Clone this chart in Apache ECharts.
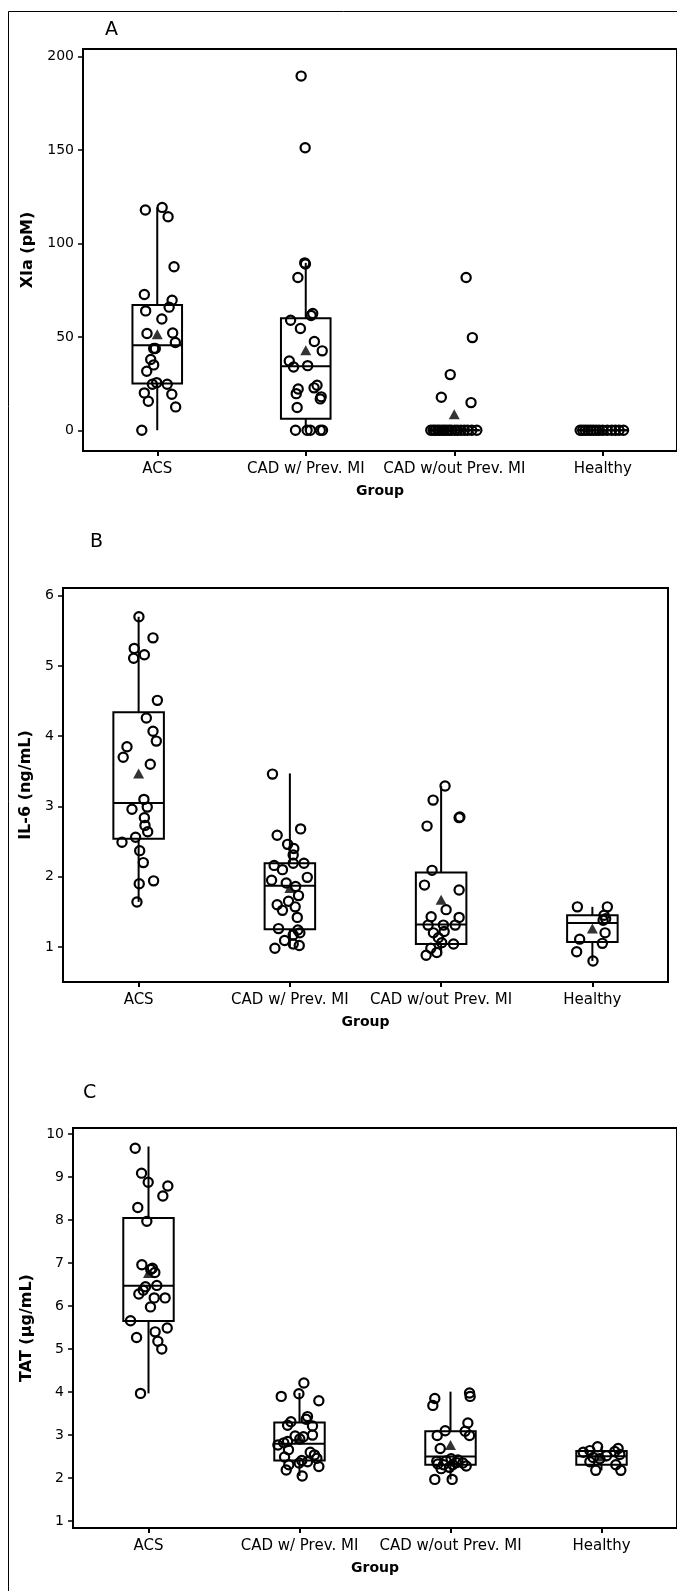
<!DOCTYPE html>
<html><head><meta charset="utf-8">
<script src="https://cdn.jsdelivr.net/npm/echarts@6/dist/echarts.min.js"></script>
<style>html,body{margin:0;padding:0;background:#fff}#c{width:677px;height:1591px}</style>
</head><body><div id="c"></div>
<script>
const groups = ['ACS', 'CAD w/ Prev. MI', 'CAD w/out Prev. MI', 'Healthy'];

// ---- Panel A: XIa (pM) ----
const xiaACS = [117.9,119.3,114.3,87.5,72.7,69.6,65.9,63.9,59.6,51.8,52.1,47.0,43.8,43.8,37.9,35.0,31.6,24.6,25.5,24.6,20.0,15.5,19.3,12.5,0];
const xiaACSJit = [-0.080,0.033,0.073,0.113,-0.087,0.100,0.080,-0.078,0.031,-0.069,0.104,0.122,-0.013,-0.024,-0.044,-0.024,-0.071,-0.033,-0.004,0.067,-0.087,-0.060,0.098,0.124,-0.104];
const xiaCADw = [189.6,151.2,89.6,89.0,81.8,62.5,61.4,58.9,54.5,47.5,42.5,37.1,33.9,34.6,22.1,19.6,24.1,22.7,17.9,16.8,12.2,0,0,0,0,0];
const xiaCADwJit = [-0.031,-0.004,-0.007,-0.002,-0.053,0.047,0.036,-0.102,-0.036,0.058,0.111,-0.111,-0.082,0.013,-0.051,-0.064,0.076,0.056,0.104,0.098,-0.058,-0.069,0.009,0.031,0.098,0.113];
const xiaCADwo = [81.8,49.6,29.8,17.7,14.8,0,0,0,0,0,0,0,0,0,0,0,0,0,0,0,0,0];
const xiaCADwoJit = [0.080,0.122,-0.027,-0.087,0.113,-0.158,-0.142,-0.128,-0.112,-0.098,-0.081,-0.066,-0.050,-0.034,-0.020,0.004,0.022,0.045,0.068,0.090,0.118,0.152];
const xiaHealthy = [0,0,0,0,0,0,0,0,0,0,0,0,0,0];
const xiaHealthyJit = [-0.152,-0.135,-0.118,-0.100,-0.082,-0.064,-0.045,-0.025,0.000,0.030,0.060,0.085,0.110,0.140];
// [lower whisker, Q1, median, Q3, upper whisker]
const xiaStats = [[0,25.0,45.5,67.1,119.3],[0,6.1,34.3,60.0,89.6],[0,0,0,0,0],[0,0,0,0,0]];
const xiaMeans = [51.4,42.9,8.6,0];
const xiaTicks = [0,50,100,150,200];

// ---- Panel B: IL-6 (ng/mL) ----
const il6ACS = [5.70,5.40,5.25,5.11,5.16,4.51,4.26,4.07,3.93,3.85,3.70,3.60,3.10,2.99,2.96,2.84,2.73,2.64,2.56,2.49,2.37,2.20,1.90,1.94,1.64];
const il6ACSJit = [0.002,0.095,-0.029,-0.033,0.038,0.124,0.051,0.095,0.117,-0.077,-0.102,0.077,0.035,0.057,-0.044,0.038,0.042,0.060,-0.020,-0.110,0.007,0.031,0.004,0.099,-0.011];
const il6CADw = [3.46,2.68,2.59,2.46,2.40,2.31,2.19,2.19,2.16,2.10,1.99,1.95,1.91,1.86,1.73,1.65,1.60,1.57,1.52,1.42,1.26,1.24,1.20,1.17,1.09,1.04,1.02,0.98];
const il6CADwJit = [-0.115,0.071,-0.084,-0.015,0.026,0.022,0.022,0.093,-0.104,-0.049,0.115,-0.121,-0.024,0.038,0.057,-0.009,-0.084,0.035,-0.049,0.049,-0.075,0.053,0.066,0.022,-0.035,0.022,0.062,-0.099];
const il6CADwo = [3.29,3.09,2.85,2.84,2.72,2.09,1.88,1.81,1.53,1.43,1.42,1.31,1.31,1.31,1.20,1.22,1.13,1.06,1.04,0.98,0.92,0.88];
const il6CADwoJit = [0.026,-0.053,0.124,0.119,-0.093,-0.060,-0.110,0.119,0.033,-0.066,0.119,-0.086,0.015,0.093,-0.051,0.020,-0.018,0.004,0.082,-0.068,-0.029,-0.099];
const il6Healthy = [1.57,1.57,1.45,1.40,1.38,1.20,1.11,1.05,0.93,0.80];
const il6HealthyJit = [-0.099,0.099,0.077,0.088,0.071,0.084,-0.084,0.066,-0.104,0.004];
const il6Stats = [[1.64,2.54,3.05,4.34,5.70],[0.98,1.25,1.87,2.19,3.47],[0.88,1.04,1.32,2.06,3.29],[0.80,1.07,1.34,1.45,1.57]];
const il6Means = [3.47,1.84,1.67,1.26];
const il6Ticks = [1,2,3,4,5,6];

// ---- Panel C: TAT (µg/mL) ----
const tatACS = [9.67,9.09,8.88,8.79,8.56,8.29,7.97,6.96,6.88,6.85,6.78,6.48,6.45,6.37,6.28,6.19,6.19,5.98,5.66,5.49,5.40,5.27,5.18,5.00,3.97];
const tatACSJit = [-0.088,-0.046,-0.002,0.128,0.095,-0.071,-0.011,-0.044,0.026,0.015,0.042,0.055,-0.020,-0.035,-0.064,0.038,0.110,0.013,-0.119,0.124,0.044,-0.079,0.062,0.088,-0.053];
const tatCADw = [4.21,3.96,3.90,3.80,3.43,3.37,3.31,3.23,3.21,3.00,2.98,2.96,2.91,2.85,2.82,2.77,2.66,2.60,2.54,2.49,2.46,2.41,2.38,2.35,2.31,2.27,2.19,2.05];
const tatCADwJit = [0.029,-0.004,-0.121,0.128,0.053,0.044,-0.057,-0.079,0.086,0.086,-0.029,0.026,0.002,-0.079,-0.104,-0.143,-0.073,0.071,0.099,-0.099,0.115,0.015,0.053,-0.002,-0.071,0.128,-0.088,0.018];
const tatCADwo = [3.98,3.90,3.85,3.69,3.28,3.10,3.09,2.99,2.99,2.69,2.45,2.42,2.39,2.40,2.36,2.35,2.33,2.31,2.31,2.28,2.25,2.22,1.97,1.97];
const tatCADwoJit = [0.126,0.130,-0.104,-0.117,0.115,-0.035,0.097,0.126,-0.088,-0.068,0.004,0.049,-0.091,-0.029,0.038,0.082,-0.084,-0.046,0.015,0.104,-0.007,-0.062,-0.104,0.011];
const tatHealthy = [2.73,2.69,2.64,2.62,2.60,2.55,2.52,2.48,2.45,2.38,2.31,2.18,2.18];
const tatHealthyJit = [-0.026,0.110,-0.077,0.088,-0.121,0.121,0.033,-0.055,-0.011,-0.077,0.095,-0.038,0.128];
const tatStats = [[3.97,5.65,6.47,8.05,9.71],[2.05,2.41,2.80,3.29,3.98],[1.97,2.31,2.50,3.09,4.01],[2.18,2.31,2.51,2.63,2.73]];
const tatMeans = [6.77,2.93,2.77,2.50];
const tatTicks = [1,2,3,4,5,6,7,8,9,10];

const FONT = 'DejaVu Sans';
const BOX_HALF = 0.167;

const panels = [
  { name: 'XIa (pM)', vals: [xiaACS, xiaCADw, xiaCADwo, xiaHealthy], jits: [xiaACSJit, xiaCADwJit, xiaCADwoJit, xiaHealthyJit],
    stats: xiaStats, means: xiaMeans, ticks: xiaTicks, min: -11.1, max: 204.1,
    grid: { left: 83, top: 49, width: 597, height: 402 }, nameGap: 47 },
  { name: 'IL-6 (ng/mL)', vals: [il6ACS, il6CADw, il6CADwo, il6Healthy], jits: [il6ACSJit, il6CADwJit, il6CADwoJit, il6HealthyJit],
    stats: il6Stats, means: il6Means, ticks: il6Ticks, min: 0.50, max: 6.11,
    grid: { left: 63, top: 588, width: 605, height: 394 }, nameGap: 28 },
  { name: 'TAT (\u00b5g/mL)', vals: [tatACS, tatCADw, tatCADwo, tatHealthy], jits: [tatACSJit, tatCADwJit, tatCADwoJit, tatHealthyJit],
    stats: tatStats, means: tatMeans, ticks: tatTicks, min: 0.84, max: 10.14,
    grid: { left: 73, top: 1128, width: 606, height: 400 }, nameGap: 37 }
];

const grid = [], xAxis = [], yAxis = [], series = [];
panels.forEach((p, gi) => {
  grid.push(Object.assign({ show: true, borderColor: '#000', borderWidth: 2, backgroundColor: 'transparent' }, p.grid));
  xAxis.push({
    type: 'category', gridIndex: gi, data: groups, boundaryGap: true,
    axisLine: { show: true, onZero: false, lineStyle: { color: '#000', width: 2 } },
    axisTick: { show: true, alignWithLabel: true, length: 5, lineStyle: { color: '#000', width: 2 } },
    axisLabel: { color: '#000', fontSize: 15, fontFamily: FONT, margin: 11, interval: 0 },
    splitLine: { show: false },
    name: 'Group', nameLocation: 'middle', nameGap: 33,
    nameTextStyle: { color: '#000', fontWeight: 'bold', fontSize: 14, fontFamily: FONT }
  });
  xAxis.push({ type: 'value', gridIndex: gi, min: -0.5, max: 3.5, show: false,
    axisLine: { show: false, onZero: false }, axisTick: { show: false }, axisLabel: { show: false }, splitLine: { show: false } });
  yAxis.push({
    type: 'value', gridIndex: gi, min: p.min, max: p.max,
    axisLine: { show: true, onZero: false, lineStyle: { color: '#000', width: 2 } },
    axisTick: { show: true, length: 5, customValues: p.ticks, lineStyle: { color: '#000', width: 1.5 } },
    axisLabel: { color: '#000', fontSize: 14, fontFamily: FONT, margin: 9, customValues: p.ticks },
    splitLine: { show: false },
    name: p.name, nameLocation: 'middle', nameGap: p.nameGap,
    nameTextStyle: { color: '#000', fontWeight: 'bold', fontSize: 16, fontFamily: FONT }
  });
  const vx = 2 * gi + 1;
  series.push({
    type: 'custom', xAxisIndex: vx, yAxisIndex: gi, silent: true, z: 2,
    encode: { x: 0, y: [1, 2, 3, 4, 5] },
    data: p.stats.map((s, i) => [i].concat(s)),
    renderItem: function (params, api) {
      const x = api.value(0);
      const lo = api.coord([x, api.value(1)]);
      const q1 = api.coord([x, api.value(2)]);
      const md = api.coord([x, api.value(3)]);
      const q3 = api.coord([x, api.value(4)]);
      const hi = api.coord([x, api.value(5)]);
      const hw = api.size([BOX_HALF, 0])[0];
      const st = { stroke: '#000', lineWidth: 2, fill: null };
      return { type: 'group', children: [
        { type: 'line', shape: { x1: hi[0], y1: hi[1], x2: q3[0], y2: q3[1] }, style: st },
        { type: 'line', shape: { x1: q1[0], y1: q1[1], x2: lo[0], y2: lo[1] }, style: st },
        { type: 'rect', shape: { x: q3[0] - hw, y: q3[1], width: 2 * hw, height: Math.max(q1[1] - q3[1], 0.01) }, style: st },
        { type: 'line', shape: { x1: md[0] - hw, y1: md[1], x2: md[0] + hw, y2: md[1] }, style: st }
      ]};
    }
  });
  const pts = [];
  p.vals.forEach((arr, k) => arr.forEach((v, j) => pts.push([k + p.jits[k][j], v])));
  series.push({
    type: 'scatter', xAxisIndex: vx, yAxisIndex: gi, silent: true, z: 3,
    symbol: 'circle', symbolSize: 9.2,
    itemStyle: { color: 'rgba(0,0,0,0)', borderColor: '#000', borderWidth: 2.2, opacity: 1 },
    data: pts
  });
  series.push({
    type: 'scatter', xAxisIndex: vx, yAxisIndex: gi, silent: true, z: 4,
    symbol: 'triangle', symbolSize: [11, 10],
    itemStyle: { color: '#000' },
    data: p.means.map((m, i) => [i, m])
  });
});

const chart = echarts.init(document.getElementById('c'), null, { renderer: 'canvas' });
chart.setOption({
  animation: false,
  backgroundColor: '#fff',
  textStyle: { fontFamily: FONT },
  grid, xAxis, yAxis, series,
  graphic: [
    { type: 'rect', silent: true, z: 0, shape: { x: 8.5, y: 11.5, width: 720, height: 1620 }, style: { fill: null, stroke: '#000', lineWidth: 1 } },
    { type: 'text', left: 105, top: 21, style: { text: 'A', fontSize: 19, fontFamily: FONT, fill: '#000' } },
    { type: 'text', left: 90, top: 533, style: { text: 'B', fontSize: 19, fontFamily: FONT, fill: '#000' } },
    { type: 'text', left: 83, top: 1084, style: { text: 'C', fontSize: 19, fontFamily: FONT, fill: '#000' } }
  ]
});
</script>
</body></html>
